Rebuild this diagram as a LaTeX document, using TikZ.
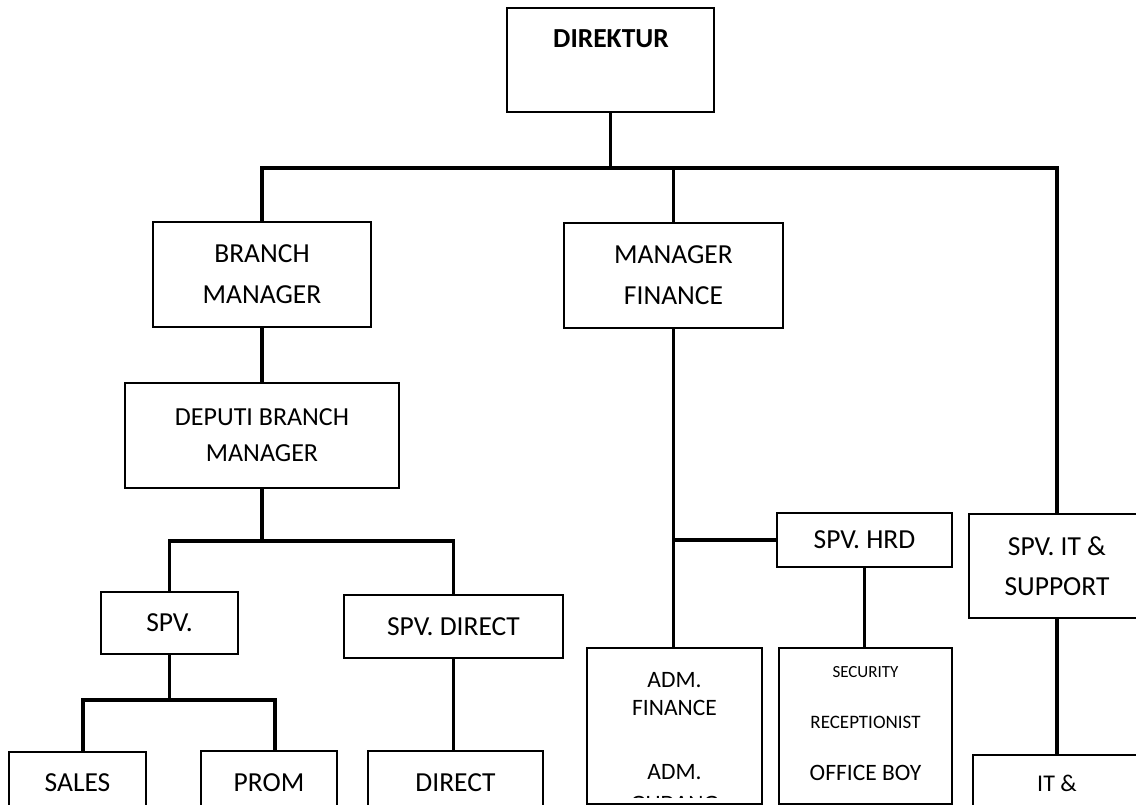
\documentclass[tikz,border=0pt]{standalone}
\usepackage{fontspec}
\setmainfont{Carlito}
\begin{document}
\begin{tikzpicture}[x=1pt,y=-1pt,
  box/.style={draw, line width=2.2pt, inner sep=0pt, align=center, font=\fontsize{27.5}{41}\selectfont},
  conn/.style={line width=3.6pt},
  txt/.style={inner sep=0pt, font=\fontsize{23.5}{28}\selectfont}]
	\useasboundingbox (0,0) rectangle (1136,805);
	\clip (0,0) rectangle (1136,805);
	% boxes
	\node[box, minimum width=207pt, minimum height=104pt] (dir) at (610.5,60) {};
	\node[txt, font=\fontsize{27.5}{32}\selectfont\bfseries] (dirtxt) at (611,39) {DIREKTUR};
	\node[box, minimum width=218pt, minimum height=105pt] (bm) at (262,274.5) {BRANCH\\MANAGER};
	\node[box, minimum width=219pt, minimum height=105pt] (mf) at (673.5,275.5) {MANAGER\\FINANCE};
	\node[box, minimum width=274pt, minimum height=105pt, font=\fontsize{26}{36}\selectfont] (dbm) at (262,435.5) {DEPUTI BRANCH\\MANAGER};
	\node[box, minimum width=137pt, minimum height=62pt] (spv) at (169.5,623) {SPV.};
	\node[box, minimum width=219pt, minimum height=63pt] (spvd) at (453.5,626.5) {SPV. DIRECT};
	\node[box, minimum width=175pt, minimum height=54pt] (hrd) at (864.5,540) {SPV. HRD};
	\node[box, minimum width=176pt, minimum height=104pt, font=\fontsize{27.5}{40}\selectfont] (it) at (1057,566) {SPV. IT \&\\SUPPORT};
	\node[box, minimum width=137pt, minimum height=62pt] (sales) at (77.5,783) {SALES};
	\node[box, minimum width=136pt, minimum height=64pt] (prom) at (269,783) {PROM};
	\node[box, minimum width=175pt, minimum height=64pt] (direct) at (455.5,783) {DIRECT};
	\node[box, minimum width=168pt, minimum height=56pt, font=\fontsize{24}{30}\selectfont] (itb) at (1057,783) {IT \&};
	\node[box, minimum width=175pt, minimum height=156pt] (adm) at (674.5,726) {};
	\node[box, minimum width=173pt, minimum height=156pt] (sec) at (865.5,726) {};
	% texts inside the two tall boxes
	\node[txt] (adm1) at (674.5,680) {ADM.};
	\node[txt] (adm2) at (674.5,708) {FINANCE};
	\node[txt] (adm3) at (674.5,772) {ADM.};
	\begin{scope}
		\clip (588,650) rectangle (761,797);
		\node[txt] (adm4) at (674.5,804) {GUDANG};
	\end{scope}
	\node[txt, font=\fontsize{17}{20}\selectfont] (sec1) at (865.5,672) {SECURITY};
	\node[txt, font=\fontsize{19}{22}\selectfont] (sec2) at (865.5,722) {RECEPTIONIST};
	\node[txt] (sec3) at (865.5,773) {OFFICE BOY};
	% connectors
	\coordinate (top) at (dir.south |- 0,168);
	\coordinate (dbus) at (dbm.south |- 0,541);
	\coordinate (sbus) at (spv.south |- 0,700);
	\draw[conn] (dir.south) -- (top);
	\draw[conn] (bm.north) -- (bm.north |- top) -- (it.north |- top) -- (it.north);
	\draw[conn] (mf.north) -- (mf.north |- top);
	\draw[conn] (bm.south) -- (dbm.north);
	\draw[conn] (dbm.south) -- (dbus);
	\draw[conn] (spv.north) |- (dbus) -| (spvd.north);
	\draw[conn] (spv.south) -- (sbus);
	\draw[conn] ([xshift=5.5pt]sales.north) |- (sbus) -| ([xshift=6pt]prom.north);
	\draw[conn] (spvd.south) -- (spvd.south |- direct.north);
	\draw[conn] (mf.south) -- (mf.south |- adm.north);
	\draw[conn] (mf.south |- hrd.west) -- (hrd.west);
	\draw[conn] (hrd.south) -- (hrd.south |- sec.north);
	\draw[conn] (it.south) -- (itb.north);
\end{tikzpicture}
\end{document}
